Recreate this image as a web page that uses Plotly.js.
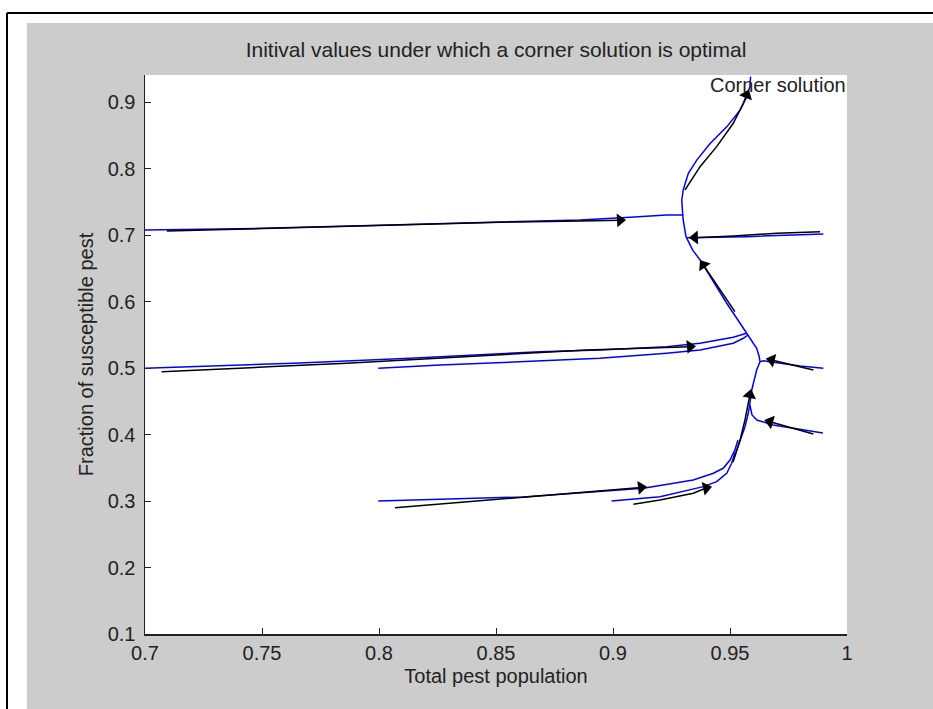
<!DOCTYPE html>
<html>
<head>
<meta charset="utf-8">
<script src="https://cdn.plot.ly/plotly-3.0.1.min.js"></script>
<style>html,body{margin:0;padding:0;background:#fff;}</style>
</head>
<body>
<div id="chart" style="width:933px;height:709px;"></div>
<script>
// ---- tick labels ----
const xTicks = [0.7, 0.75, 0.8, 0.85, 0.9, 0.95, 1];
const xTickText = ['0.7', '0.75', '0.8', '0.85', '0.9', '0.95', '1'];
const yTicks = [0.1, 0.2, 0.3, 0.4, 0.5, 0.6, 0.7, 0.8, 0.9];
const yTickText = ['0.1', '0.2', '0.3', '0.4', '0.5', '0.6', '0.7', '0.8', '0.9'];

// ---- blue trajectories ----
const blueTopX = [0.7, 0.7506, 0.8047, 0.8588, 0.8859, 0.9073, 0.9229, 0.9298, 0.9294, 0.9300, 0.9322, 0.9358, 0.9415, 0.9486, 0.9543, 0.9571, 0.9585, 0.9588];
const blueTopY = [0.7079, 0.7104, 0.7154, 0.7205, 0.7229, 0.7270, 0.7305, 0.7305, 0.753, 0.768, 0.793, 0.813, 0.838, 0.863, 0.888, 0.908, 0.9235, 0.9386];
const blueMidX = [0.9298, 0.9300, 0.9312, 0.9340, 0.9372, 0.9415, 0.9486, 0.9543, 0.9571, 0.9593, 0.9614, 0.9625, 0.9628];
const blueMidY = [0.7305, 0.7229, 0.6978, 0.6778, 0.6628, 0.6376, 0.5976, 0.5675, 0.5524, 0.5424, 0.5299, 0.5172, 0.5097];
const blueLowX = [0.9628, 0.9614, 0.9600, 0.9593, 0.9585, 0.9578, 0.9564, 0.9543, 0.9529, 0.9514];
const blueLowY = [0.5097, 0.4972, 0.4772, 0.4671, 0.4471, 0.4321, 0.4119, 0.3919, 0.3769, 0.3618];
const blueR70X = [0.9899, 0.9571, 0.9315];
const blueR70Y = [0.7019, 0.6978, 0.6960];
const blueL50X = [0.7, 0.7634, 0.8132, 0.8688, 0.8944, 0.9229, 0.9372, 0.9514, 0.9571];
const blueL50Y = [0.4998, 0.5073, 0.5148, 0.5248, 0.5273, 0.5323, 0.5374, 0.5464, 0.5524];
const blueM50X = [0.7997, 0.8261, 0.8624, 0.8944, 0.9229, 0.9372, 0.9514, 0.9557, 0.9578];
const blueM50Y = [0.4998, 0.5048, 0.5098, 0.5148, 0.5224, 0.5273, 0.5374, 0.5449, 0.5499];
const blueR50X = [0.9899, 0.9799, 0.9642, 0.9628];
const blueR50Y = [0.4998, 0.5033, 0.5110, 0.5097];
const blueR40X = [0.9897, 0.9684, 0.9615, 0.9594, 0.9585];
const blueR40Y = [0.4024, 0.4144, 0.4220, 0.4295, 0.4446];
const blueL30X = [0.7997, 0.8615, 0.9130, 0.9343, 0.9429, 0.9471, 0.9500, 0.9521, 0.9534];
const blueL30Y = [0.3001, 0.3061, 0.3192, 0.3317, 0.3418, 0.3493, 0.3618, 0.3769, 0.3919];
const blueM30X = [0.8994, 0.9115, 0.9201, 0.9386, 0.9443, 0.9486, 0.9507, 0.9521];
const blueM30Y = [0.3001, 0.3042, 0.3066, 0.3217, 0.3292, 0.3418, 0.3568, 0.3723];

// ---- black approximations ----
const blackL70X = [0.7093, 0.7506, 0.7777, 0.8047, 0.8318, 0.8588, 0.8859, 0.9030];
const blackL70Y = [0.7064, 0.7104, 0.7129, 0.7154, 0.7180, 0.7200, 0.7215, 0.7225];
const blackTopX = [0.9308, 0.9372, 0.9443, 0.9514, 0.9557, 0.9571];
const blackTopY = [0.7681, 0.8031, 0.8332, 0.8684, 0.8985, 0.9110];
const blackR70X = [0.9885, 0.9699, 0.9514, 0.9350];
const blackR70Y = [0.7053, 0.7029, 0.6989, 0.6963];
const blackMidX = [0.9521, 0.9386];
const blackMidY = [0.5850, 0.6552];
const blackL50X = [0.7071, 0.7278, 0.7548, 0.7862, 0.8118, 0.8403, 0.8688, 0.8888, 0.9329];
const blackL50Y = [0.4947, 0.4983, 0.5023, 0.5073, 0.5123, 0.5173, 0.5223, 0.5273, 0.5323];
const blackR50X = [0.9856, 0.9678];
const blackR50Y = [0.4972, 0.5123];
const blackR40X = [0.9856, 0.9671];
const blackR40Y = [0.4009, 0.4194];
const blackL30X = [0.8068, 0.8460, 0.8916, 0.9120];
const blackL30Y = [0.2900, 0.3016, 0.3141, 0.3204];
const blackM30X = [0.9087, 0.9201, 0.9343, 0.9398];
const blackM30Y = [0.2952, 0.3016, 0.3117, 0.3196];
const blackVertX = [0.9513, 0.9530, 0.9543, 0.9564, 0.9585];
const blackVertY = [0.3588, 0.3769, 0.3919, 0.4220, 0.4596];

// ---- arrow heads (position and direction in degrees, screen clockwise) ----
const arrowX = [0.9030, 0.9350, 0.9571, 0.9386, 0.9329, 0.9678, 0.9671, 0.9585, 0.9120, 0.9398];
const arrowY = [0.7225, 0.6963, 0.9110, 0.6552, 0.5323, 0.5123, 0.4194, 0.4596, 0.3204, 0.3196];
const arrowAngle = [-3, 178, -68, -124, -5, -166, -164, -78, -6, -12];

const FONT = 'Liberation Sans, Arial, Helvetica, sans-serif';
const TXT = '#222222';

const blueSets = [[blueTopX, blueTopY], [blueMidX, blueMidY], [blueLowX, blueLowY], [blueR70X, blueR70Y],
  [blueL50X, blueL50Y], [blueM50X, blueM50Y], [blueR50X, blueR50Y], [blueR40X, blueR40Y],
  [blueL30X, blueL30Y], [blueM30X, blueM30Y]];
const blackSets = [[blackL70X, blackL70Y], [blackTopX, blackTopY], [blackR70X, blackR70Y], [blackMidX, blackMidY],
  [blackL50X, blackL50Y], [blackR50X, blackR50Y], [blackR40X, blackR40Y], [blackL30X, blackL30Y],
  [blackM30X, blackM30Y], [blackVertX, blackVertY]];

const traces = [];
blueSets.forEach(function (s) {
  traces.push({x: s[0], y: s[1], type: 'scatter', mode: 'lines', showlegend: false, hoverinfo: 'skip',
    line: {color: '#0000ff', width: 1.5}});
});
blackSets.forEach(function (s) {
  traces.push({x: s[0], y: s[1], type: 'scatter', mode: 'lines', showlegend: false, hoverinfo: 'skip',
    line: {color: '#000000', width: 1.5}});
});
traces.push({x: arrowX, y: arrowY, type: 'scatter', mode: 'markers', showlegend: false, hoverinfo: 'skip',
  marker: {symbol: 'triangle-right', size: 12, color: '#000000', angle: arrowAngle, line: {width: 0}}});

const layout = {
  width: 933, height: 709,
  margin: {l: 145, r: 86, t: 75, b: 75, pad: 0},
  paper_bgcolor: '#cccccc',
  plot_bgcolor: '#ffffff',
  font: {family: FONT, size: 20, color: TXT},
  title: {text: 'Initival values under which a corner solution is optimal', x: 0.5, xref: 'paper',
    y: 1 - 50 / 709, yref: 'container', yanchor: 'middle', xanchor: 'center',
    font: {family: FONT, size: 21, color: TXT}},
  xaxis: {range: [0.7, 1], tickvals: xTicks, ticktext: xTickText, ticks: 'inside', ticklen: 6, tickwidth: 1,
    tickcolor: '#222', showline: true, linecolor: '#222', linewidth: 1.5, showgrid: false, zeroline: false,
    mirror: false, tickfont: {family: FONT, size: 20, color: TXT}, automargin: false,
    title: {text: 'Total pest population', font: {family: FONT, size: 20, color: TXT}, standoff: 6}},
  yaxis: {range: [0.1, 0.941], tickvals: yTicks, ticktext: yTickText, ticks: 'inside', ticklen: 6, tickwidth: 1,
    tickcolor: '#222', showline: true, linecolor: '#222', linewidth: 1.5, showgrid: false, zeroline: false,
    mirror: false, tickfont: {family: FONT, size: 20, color: TXT}, automargin: false, ticklabelstandoff: 4,
    title: {text: 'Fraction of susceptible pest', font: {family: FONT, size: 20, color: TXT}, standoff: 8}},
  shapes: [
    {type: 'rect', xref: 'paper', yref: 'paper', x0: -0.25, x1: 1.2, y0: (634 - 23) / 559, y1: 1.2,
      fillcolor: '#ffffff', line: {width: 0}, layer: 'above'},
    {type: 'rect', xref: 'paper', yref: 'paper', x0: -0.25, x1: (27 - 145) / 702, y0: -0.2, y1: 1.2,
      fillcolor: '#ffffff', line: {width: 0}, layer: 'above'},
    {type: 'line', xref: 'paper', yref: 'paper', x0: (7 - 145) / 702, x1: 1.2, y0: (634 - 13) / 559, y1: (634 - 13) / 559,
      line: {color: '#000000', width: 2}, layer: 'above'},
    {type: 'line', xref: 'paper', yref: 'paper', x0: (7 - 145) / 702, x1: (7 - 145) / 702, y0: -0.2, y1: (634 - 13) / 559,
      line: {color: '#000000', width: 2}, layer: 'above'}
  ],
  annotations: [
    {text: 'Corner solution', xref: 'paper', yref: 'paper', x: 1, y: 1, xanchor: 'right', yanchor: 'top',
      showarrow: false, xshift: 1, yshift: 3, font: {family: FONT, size: 20, color: TXT}}
  ]
};

Plotly.newPlot('chart', traces, layout, {displayModeBar: false, staticPlot: true});
</script>
</body>
</html>
